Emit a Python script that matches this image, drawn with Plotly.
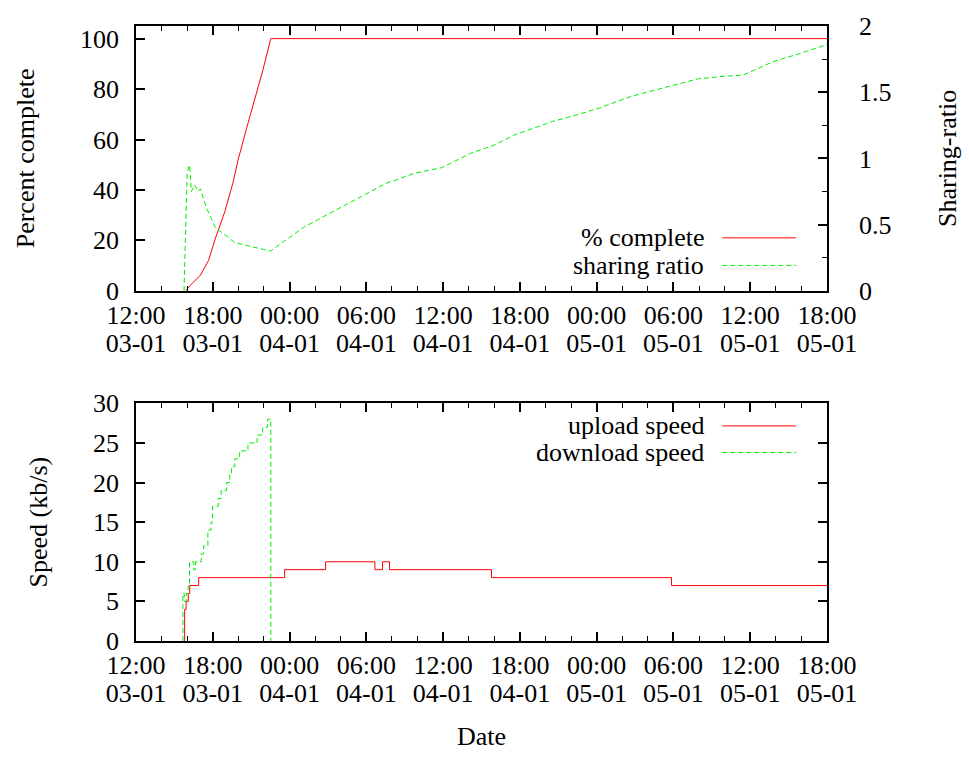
import plotly.graph_objects as go

# ---------------- data ----------------
pct_time = ["2009-01-03 15:53", "2009-01-03 16:16", "2009-01-03 17:02", "2009-01-03 17:40",
            "2009-01-03 18:11", "2009-01-03 18:57", "2009-01-03 19:35", "2009-01-03 19:59",
            "2009-01-03 20:37", "2009-01-03 21:16", "2009-01-03 21:54", "2009-01-03 22:32",
            "2009-01-05 18:00"]
pct_value = [0, 2.3, 6.2, 12, 20.5, 31.5, 43, 52, 64, 75.6, 87.2, 100, 100]

ratio_time = ["2009-01-03 15:45", "2009-01-03 16:00", "2009-01-03 16:11", "2009-01-03 16:20",
              "2009-01-03 16:35", "2009-01-03 16:51", "2009-01-03 17:02", "2009-01-03 17:32",
              "2009-01-03 18:11", "2009-01-03 19:43", "2009-01-03 21:00", "2009-01-03 22:30",
              "2009-01-04 01:06", "2009-01-04 03:40", "2009-01-04 07:30", "2009-01-04 09:50",
              "2009-01-04 11:53", "2009-01-04 14:11", "2009-01-04 15:59", "2009-01-04 17:31",
              "2009-01-04 20:35", "2009-01-04 22:08", "2009-01-05 00:11", "2009-01-05 02:45",
              "2009-01-05 04:48", "2009-01-05 07:53", "2009-01-05 09:55", "2009-01-05 11:28",
              "2009-01-05 13:46", "2009-01-05 15:49", "2009-01-05 18:00"]
ratio_value = [0, 0.90, 0.95, 0.75, 0.80, 0.75, 0.77, 0.62, 0.48, 0.365, 0.335, 0.30,
               0.48, 0.61, 0.81, 0.89, 0.93, 1.04, 1.10, 1.175, 1.28, 1.32, 1.38, 1.47,
               1.52, 1.60, 1.62, 1.63, 1.73, 1.79, 1.86]

up_time = ["2009-01-03 15:48", "2009-01-03 15:48", "2009-01-03 15:55", "2009-01-03 16:05",
           "2009-01-03 16:12", "2009-01-03 16:54", "2009-01-03 23:37", "2009-01-04 02:49",
           "2009-01-04 06:40", "2009-01-04 07:16", "2009-01-04 07:49", "2009-01-04 15:47",
           "2009-01-05 05:51", "2009-01-05 18:00"]
up_value = [0, 4, 5, 6, 7, 8, 9, 10, 9, 10, 9, 8, 7, 7]

down_time = ["2009-01-03 15:40", "2009-01-03 15:40", "2009-01-03 15:46", "2009-01-03 15:55",
             "2009-01-03 16:05", "2009-01-03 16:11", "2009-01-03 16:31", "2009-01-03 16:39",
             "2009-01-03 17:06", "2009-01-03 17:17", "2009-01-03 17:37", "2009-01-03 17:52",
             "2009-01-03 17:59", "2009-01-03 18:26", "2009-01-03 18:39", "2009-01-03 19:05",
             "2009-01-03 19:20", "2009-01-03 19:28", "2009-01-03 19:43", "2009-01-03 20:06",
             "2009-01-03 20:45", "2009-01-03 21:28", "2009-01-03 21:54", "2009-01-03 22:17",
             "2009-01-03 22:32"]
down_value = [0, 6, 5, 6, 7, 10, 9, 10, 11, 12, 14, 15, 17, 18, 19, 20, 21, 22, 23, 24,
              25, 26, 27, 28, 0]

x_range = ["2009-01-03 12:00", "2009-01-05 18:00"]
legend_top = ["% complete", "sharing ratio"]
legend_bottom = ["upload speed", "download speed"]

# ---------------- styling ----------------
FONT = '"Liberation Serif", "Times New Roman", Times, serif'
FS = 26
RED = "#ff0000"
GREEN = "#00ee00"
SIX_H = 6 * 3600 * 1000
TWO_H = 2 * 3600 * 1000

fig = go.Figure()
fig.add_trace(go.Scatter(x=pct_time, y=pct_value, mode="lines", xaxis="x", yaxis="y",
                         line=dict(color=RED, width=1), showlegend=False))
fig.add_trace(go.Scatter(x=ratio_time, y=ratio_value, mode="lines", xaxis="x", yaxis="y2",
                         line=dict(color=GREEN, width=1, dash="5px,3px"), showlegend=False))
fig.add_trace(go.Scatter(x=up_time, y=up_value, mode="lines", xaxis="x2", yaxis="y3",
                         line=dict(color=RED, width=1, shape="hv"), showlegend=False))
fig.add_trace(go.Scatter(x=down_time, y=down_value, mode="lines", xaxis="x2", yaxis="y3",
                         line=dict(color=GREEN, width=1, dash="5px,3px", shape="hv"),
                         showlegend=False))
# invisible carriers so the date-label axes get drawn
fig.add_trace(go.Scatter(x=pct_time, y=pct_value, mode="lines", xaxis="x3", yaxis="y",
                         opacity=0, line=dict(width=0), hoverinfo="skip", showlegend=False))
fig.add_trace(go.Scatter(x=up_time, y=up_value, mode="lines", xaxis="x4", yaxis="y3",
                         opacity=0, line=dict(width=0), hoverinfo="skip", showlegend=False))

tickfont = dict(family=FONT, size=FS, color="black")
time_axis = dict(type="date", range=x_range, tick0=x_range[0], dtick=SIX_H,
                 tickformat="%H:%M", ticks="inside", ticklen=9, tickwidth=1.5,
                 tickcolor="black", showline=True, linecolor="black", linewidth=1.5,
                 mirror="ticks", showgrid=False, zeroline=False, tickfont=tickfont,
                 ticklabelstandoff=0,
                 minor=dict(dtick=TWO_H, tick0=x_range[0], ticks="inside", ticklen=5,
                            tickwidth=1, tickcolor="black", showgrid=False))
date_axis = dict(type="date", range=x_range, tick0=x_range[0], dtick=SIX_H,
                 tickformat="%d-%m", ticks="", showline=False, showgrid=False,
                 zeroline=False, tickfont=tickfont, ticklabelstandoff=34)

top_dom = [(648 - 291) / 627, 1.0]
bot_dom = [0.0, (648 - 405.7) / 627]

fig.update_layout(
    width=969, height=757,
    margin=dict(l=136, r=131, t=21, b=109),
    paper_bgcolor="white", plot_bgcolor="white",
    font=dict(family=FONT, size=FS, color="black"),
    showlegend=False,
    xaxis=dict(time_axis, anchor="y", domain=[0, 1]),
    xaxis3=dict(date_axis, anchor="y", overlaying="x"),
    xaxis2=dict(time_axis, anchor="y3", domain=[0, 1]),
    xaxis4=dict(date_axis, anchor="y3", overlaying="x2",
                title=dict(text="Date", font=dict(family=FONT, size=FS), standoff=19)),
    yaxis=dict(domain=top_dom, anchor="x", range=[0, 105], dtick=20, tick0=0,
               ticks="inside", ticklen=9, tickwidth=1.5, tickcolor="black",
               showline=True, linecolor="black", linewidth=1.5, mirror=False,
               showgrid=False, zeroline=False, tickfont=tickfont, ticklabelstandoff=10,
               title=dict(text="Percent complete", font=dict(family=FONT, size=FS),
                          standoff=38)),
    yaxis2=dict(overlaying="y", side="right", anchor="x", range=[0, 2], dtick=0.5,
                tick0=0, ticks="inside", ticklen=9, tickwidth=1.5, tickcolor="black",
                showline=True, linecolor="black", linewidth=1.5, showgrid=False,
                zeroline=False, tickfont=tickfont, ticklabelstandoff=25,
                minor=dict(dtick=0.25, ticks="inside", ticklen=5, tickwidth=1,
                           tickcolor="black", showgrid=False),
                title=dict(text="Sharing-ratio", font=dict(family=FONT, size=FS),
                           standoff=47)),
    yaxis3=dict(domain=bot_dom, anchor="x2", range=[0, 30], dtick=5, tick0=0,
                ticks="inside", ticklen=9, tickwidth=1.5, tickcolor="black",
                showline=True, linecolor="black", linewidth=1.5, mirror="ticks",
                showgrid=False, zeroline=False, tickfont=tickfont, ticklabelstandoff=10,
                title=dict(text="Speed (kb/s)", font=dict(family=FONT, size=FS),
                           standoff=38)),
)

# gnuplot-style keys: text right-aligned, sample line to its right
def add_key(labels, colors, dashes, xref, yref, rows):
    for lab, col, dash, yy in zip(labels, colors, dashes, rows):
        fig.add_annotation(text=lab, xref=xref, yref=yref, x=0.8248, y=yy,
                           xanchor="right", yanchor="middle", showarrow=False,
                           font=dict(family=FONT, size=FS, color="black"))
        fig.add_shape(type="line", xref=xref, yref=yref, x0=0.8485, x1=0.9553,
                      y0=yy, y1=yy, line=dict(color=col, width=1, dash=dash))

add_key(legend_top, [RED, GREEN], ["solid", "5px,3px"], "x domain", "y domain",
        [0.200, 0.096])
add_key(legend_bottom, [RED, GREEN], ["solid", "5px,3px"], "x2 domain", "y3 domain",
        [0.905, 0.793])

fig.write_html("out.html", config={"displayModeBar": False}, post_script=(
    "document.documentElement.style.margin='0';"
    "document.documentElement.style.overflow='hidden';"
    "document.body.style.margin='0';"
    "document.body.style.overflow='hidden';"
    "var d=document.getElementById('{plot_id}');"
    "d.style.position='fixed';d.style.left='0px';d.style.top='0px';"))
